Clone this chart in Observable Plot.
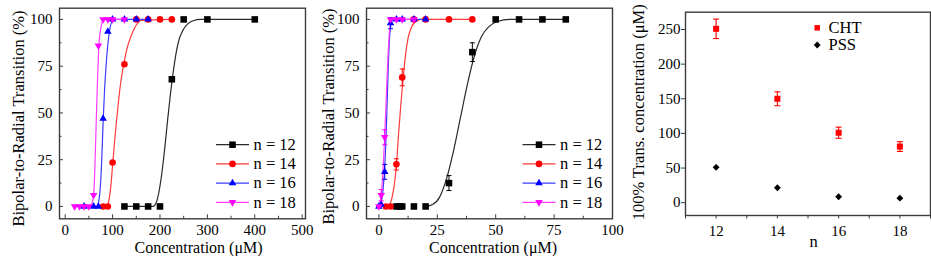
<!DOCTYPE html>
<html>
<head>
<meta charset="utf-8">
<script src="https://cdn.jsdelivr.net/npm/d3@7"></script>
<script src="https://cdn.jsdelivr.net/npm/@observablehq/plot@0.6"></script>
<style>
  body { margin: 0; background: #fff; }
  #chart { position: relative; width: 931px; height: 256px; overflow: hidden; background: #fff; }
  #chart svg { position: absolute; left: 0; top: 0; }
  #chart svg, #chart svg text { font-family: "Liberation Serif", "Times New Roman", serif !important; }
</style>
</head>
<body>
<div id="chart"></div>
<script>
// ---------- series labels / styles ----------
const legendLabels = ["n = 12", "n = 14", "n = 16", "n = 18"];
const markerColors = ["#000000", "#ff0000", "#0000ff", "#ff00ff"];
const curveColors = ["#2a2a2a", "#ff3b3b", "#3b3bff", "#ff3bff"];
const markerSymbols = ["square", "circle", "triangle", "triangle"];
const markerRotate = [0, 0, 0, 180];
const markerR = [3.7, 3.3, 2.8, 2.8];

// ---------- Panel 1: CHT, Bipolar-to-Radial transition vs concentration ----------
const cht12X = [125, 150, 175, 200, 225, 250, 300, 400];
const cht12Y = [0, 0, 0, 0, 68, 100, 100, 100];
const cht14X = [80, 90, 100, 125, 150, 175, 200, 225];
const cht14Y = [0, 0, 23.5, 76, 100, 100, 100, 100];
const cht16X = [40, 60, 70, 80, 90, 100, 125, 150, 175];
const cht16Y = [0, 0, 0, 47, 93.5, 100, 100, 100, 100];
const cht18X = [20, 30, 40, 50, 60, 70, 80, 90, 100, 125];
const cht18Y = [0, 0, 0, 0, 6, 86, 100, 100, 100, 100];

// fitted curves
const chtFit12X = [125, 185, 192, 198, 204, 210, 216, 222, 228, 234, 240, 248, 258, 270, 285, 400];
const chtFit12Y = [0, 0, 2, 8, 18, 31, 46, 60, 72, 82, 89, 94, 97.5, 99.3, 100, 100];
const chtFit14X = [80, 88, 92, 96, 100, 104, 108, 112, 116, 120, 125, 130, 136, 142, 150, 160, 225];
const chtFit14Y = [0, 0, 3, 10, 22, 34, 45, 55, 64, 71, 78, 84, 89, 93, 97, 99.5, 100];
const chtFit16X = [40, 68, 71, 74, 77, 80, 83, 86, 89, 92, 95, 99, 104, 175];
const chtFit16Y = [0, 0, 3, 10, 24, 45, 62, 74, 84, 91, 96, 99, 100, 100];
const chtFit18X = [20, 54, 57, 60, 62, 64, 66, 68, 70, 72, 75, 78, 82, 125];
const chtFit18Y = [0, 0, 2, 6, 16, 32, 50, 66, 80, 89, 95, 98.5, 100, 100];

// ---------- Panel 2: PSS ----------
const pss12X = [7.5, 9, 10, 15, 20, 30, 40, 50, 60, 70, 80];
const pss12Y = [0, 0, 0, 0, 0, 12.5, 82.5, 100, 100, 100, 100];
const pss14X = [3, 5, 7.5, 10, 15, 20, 30, 40];
const pss14Y = [0, 0, 22.5, 69, 100, 100, 100, 100];
const pss16X = [0, 1, 2.5, 5, 7.5, 10, 15, 20];
const pss16Y = [0, 1, 18.5, 98, 100, 100, 100, 100];
const pss18X = [0, 1, 2.5, 5, 7.5, 10, 15];
const pss18Y = [0, 6, 37, 100, 100, 100, 100];

const pss12ErrX = [30, 40];   const pss12ErrY = [12.5, 82.5]; const pss12Err = [4, 5];
const pss14ErrX = [7.5, 10];  const pss14ErrY = [22.5, 69];   const pss14Err = [3, 4.5];
const pss16ErrX = [2.5, 5];   const pss16ErrY = [18.5, 98];   const pss16Err = [4, 3];
const pss18ErrX = [1, 2.5];   const pss18ErrY = [6, 37];      const pss18Err = [3, 4];

const pssFit12X = [20, 23, 26, 29, 32, 35, 38, 41, 44, 47, 51, 56, 80];
const pssFit12Y = [0, 1, 5, 15, 30, 48, 66, 81, 91, 96, 99, 100, 100];
const pssFit14X = [3, 4.5, 6, 7.5, 8.5, 9.5, 10.5, 11.5, 12.5, 14, 16, 18, 40];
const pssFit14Y = [0, 1, 7, 22, 40, 56, 70, 82, 90, 96, 99, 100, 100];
const pssFit16X = [0, 1, 1.5, 2, 2.5, 3, 3.5, 4, 4.5, 5, 5.5, 6.5, 20];
const pssFit16Y = [0, 2, 6, 12, 21, 35, 54, 74, 89, 96, 99, 100, 100];
const pssFit18X = [0, 0.5, 1, 1.5, 2, 2.5, 3, 3.5, 4, 4.5, 5, 6, 15];
const pssFit18Y = [0, 2, 6, 14, 25, 38, 53, 69, 83, 93, 98, 100, 100];

// ---------- Panel 3: 100% transition concentration vs n ----------
const nValues = [12, 14, 16, 18];
const chtTrans = [251, 150, 101, 81];
const chtTransErr = [14, 10, 8, 7];
const pssTrans = [51, 21.5, 8.5, 6.5];
const pssTransErr = [3, 1.5, 1, 1];

const yTitleSigmoid = "Bipolar-to-Radial Transition (%)";
const xTitleSigmoid = "Concentration (μM)";
const yTitleTrans = "100% Trans. concentration (μM)";
const xTitleTrans = "n";
const panel3Legend = ["CHT", "PSS"];

// ---------- helpers ----------
const FONT = "Liberation Serif";
const FS = 16.5;   // titles / legend
const TFS = 15;    // tick labels
const frameColor = "#3c3c3c";
const cap = w => ({draw(ctx) { ctx.moveTo(-w / 2, 0); ctx.lineTo(w / 2, 0); }});
const seg = w => ({draw(ctx) { ctx.moveTo(-w / 2, 0); ctx.lineTo(w / 2, 0); }});
const pts = (xs, ys) => xs.map((x, i) => ({x, y: ys[i]}));
const errs = (xs, ys, es) => xs.map((x, i) => ({x, y: ys[i], e: es[i]}));
const range = (a, b, s) => d3.range(a, b + s / 2, s);

function baseStyle() {
  return {background: "transparent", overflow: "visible", fontFamily: FONT, fontSize: FS + "px", color: "#000"};
}

function sigmoidPanel(cfg) {
  const marks = [Plot.frame({stroke: frameColor, strokeWidth: 1.4})];
  // inward ticks
  marks.push(Plot.axisX(cfg.xMajor, {tickSize: -4, fill: "none", label: null, stroke: frameColor}));
  marks.push(Plot.axisX(cfg.xMinor, {tickSize: -2.5, fill: "none", label: null, stroke: frameColor}));
  marks.push(Plot.axisY(cfg.yMajor, {tickSize: -4, fill: "none", label: null, stroke: frameColor}));
  marks.push(Plot.axisY(cfg.yMinor, {tickSize: -2.5, fill: "none", label: null, stroke: frameColor}));
  // tick labels
  marks.push(Plot.axisX(cfg.xMajor, {tickSize: 0, tickPadding: 6, label: null, fill: "#000", fontSize: TFS, fontFamily: FONT}));
  marks.push(Plot.axisY(cfg.yMajor, {tickSize: 0, tickPadding: 7, label: null, fill: "#000", fontSize: TFS, fontFamily: FONT}));
  // titles
  marks.push(Plot.text([yTitleSigmoid], {text: d => d, frameAnchor: "left", textAnchor: "middle", lineAnchor: "middle", rotate: -90, dx: cfg.yTitleDx, dy: cfg.yTitleDy, fontSize: FS, fontFamily: FONT, fill: "#000"}));
  marks.push(Plot.text([xTitleSigmoid], {text: d => d, frameAnchor: "bottom", textAnchor: "middle", lineAnchor: "middle", dx: cfg.xTitleDx, dy: 28.8, fontSize: 16, fontFamily: FONT, fill: "#000"}));
  // fitted curves
  cfg.series.forEach((s, i) => {
    marks.push(Plot.line(pts(s.fitX, s.fitY), {x: "x", y: "y", stroke: curveColors[i], strokeWidth: 1.2, curve: "monotone-x"}));
  });
  // markers + error bars
  cfg.series.forEach((s, i) => {
    marks.push(Plot.dot(pts(s.x, s.y), {x: "x", y: "y", symbol: markerSymbols[i], rotate: markerRotate[i], r: markerR[i], fill: markerColors[i]}));
    if (s.errX) {
      const e = errs(s.errX, s.errY, s.err);
      marks.push(Plot.ruleX(e, {x: "x", y1: d => d.y - d.e, y2: d => d.y + d.e, stroke: markerColors[i], strokeWidth: 1}));
      marks.push(Plot.dot(e, {x: "x", y: d => d.y - d.e, symbol: cap(5), stroke: markerColors[i], fill: "none", strokeWidth: 1}));
      marks.push(Plot.dot(e, {x: "x", y: d => d.y + d.e, symbol: cap(5), stroke: markerColors[i], fill: "none", strokeWidth: 1}));
    }
  });
  // legend
  legendLabels.forEach((lab, i) => {
    const dy = 136.5 + i * 19.2;
    marks.push(Plot.dot([lab], {frameAnchor: "top-left", dx: cfg.legDx, dy, symbol: seg(33), stroke: curveColors[i], fill: "none", strokeWidth: 1.3}));
    marks.push(Plot.dot([lab], {frameAnchor: "top-left", dx: cfg.legDx, dy, symbol: markerSymbols[i], rotate: markerRotate[i], r: markerR[i], fill: markerColors[i]}));
    marks.push(Plot.text([lab], {text: d => d, frameAnchor: "top-left", dx: cfg.legDx + 21, dy, textAnchor: "start", lineAnchor: "middle", fontSize: FS, fontFamily: FONT, fill: "#000"}));
  });
  return Plot.plot({
    width: 931, height: 256,
    marginLeft: cfg.left, marginRight: 931 - cfg.right, marginTop: 7.7, marginBottom: 256 - 218.3,
    x: {domain: cfg.xDomain},
    y: {domain: [-6.6, 106]},
    style: baseStyle(),
    marks
  });
}

const panel1 = sigmoidPanel({
  left: 59, right: 305, xDomain: [-12, 507],
  xMajor: range(0, 500, 100), xMinor: range(50, 450, 100),
  yMajor: range(0, 100, 25), yMinor: range(12.5, 87.5, 25),
  yTitleDx: -41, yTitleDy: 5, xTitleDx: 16,
  legDx: 173,
  series: [
    {x: cht12X, y: cht12Y, fitX: chtFit12X, fitY: chtFit12Y},
    {x: cht14X, y: cht14Y, fitX: chtFit14X, fitY: chtFit14Y},
    {x: cht16X, y: cht16Y, fitX: chtFit16X, fitY: chtFit16Y},
    {x: cht18X, y: cht18Y, fitX: chtFit18X, fitY: chtFit18Y}
  ]
});

const panel2 = sigmoidPanel({
  left: 366, right: 612, xDomain: [-5.3, 100],
  xMajor: range(0, 100, 25), xMinor: range(12.5, 87.5, 25),
  yMajor: range(0, 100, 25), yMinor: range(12.5, 87.5, 25),
  yTitleDx: -37.7, yTitleDy: 3, xTitleDx: 3.5,
  legDx: 172.5,
  series: [
    {x: pss12X, y: pss12Y, fitX: pssFit12X, fitY: pssFit12Y, errX: pss12ErrX, errY: pss12ErrY, err: pss12Err},
    {x: pss14X, y: pss14Y, fitX: pssFit14X, fitY: pssFit14Y, errX: pss14ErrX, errY: pss14ErrY, err: pss14Err},
    {x: pss16X, y: pss16Y, fitX: pssFit16X, fitY: pssFit16Y, errX: pss16ErrX, errY: pss16ErrY, err: pss16Err},
    {x: pss18X, y: pss18Y, fitX: pssFit18X, fitY: pssFit18Y, errX: pss18ErrX, errY: pss18ErrY, err: pss18Err}
  ]
});

// Panel 3
const chtRows = errs(nValues, chtTrans, chtTransErr);
const pssRows = errs(nValues, pssTrans, pssTransErr);
const panel3 = Plot.plot({
  width: 931, height: 256,
  marginLeft: 685, marginRight: 1, marginTop: 11.7, marginBottom: 41,
  x: {domain: [11, 19]},
  y: {domain: [-18.5, 275]},
  style: baseStyle(),
  marks: [
    Plot.frame({stroke: frameColor, strokeWidth: 1.4}),
    Plot.axisX(range(11, 19, 1), {tickSize: 3.5, fill: "none", label: null, stroke: frameColor}),
    Plot.axisY(range(0, 250, 50), {tickSize: 4, fill: "none", label: null, stroke: frameColor}),
    Plot.axisX(nValues, {tickSize: 0, tickPadding: 9.5, label: null, fill: "#000", fontSize: TFS, fontFamily: FONT}),
    Plot.axisY(range(0, 250, 50), {tickSize: 0, tickPadding: 5, label: null, fill: "#000", fontSize: TFS, fontFamily: FONT}),
    Plot.text([yTitleTrans], {text: d => d, frameAnchor: "left", textAnchor: "middle", lineAnchor: "middle", rotate: -90, dx: -46.7, dy: -1.6, fontSize: FS, fontFamily: FONT, fill: "#000"}),
    Plot.text([xTitleTrans], {text: d => d, frameAnchor: "bottom", textAnchor: "middle", lineAnchor: "middle", dx: 5.5, dy: 26, fontSize: FS, fontFamily: FONT, fill: "#000"}),
    // CHT
    Plot.ruleX(chtRows, {x: "x", y1: d => d.y - d.e, y2: d => d.y + d.e, stroke: "#ff0000", strokeWidth: 1.1}),
    Plot.dot(chtRows, {x: "x", y: d => d.y - d.e, symbol: cap(6), stroke: "#ff0000", fill: "none", strokeWidth: 1.1}),
    Plot.dot(chtRows, {x: "x", y: d => d.y + d.e, symbol: cap(6), stroke: "#ff0000", fill: "none", strokeWidth: 1.1}),
    Plot.dot(chtRows, {x: "x", y: "y", symbol: "square", r: 3.4, fill: "#ff0000"}),
    // PSS
    Plot.ruleX(pssRows, {x: "x", y1: d => d.y - d.e, y2: d => d.y + d.e, stroke: "#000", strokeWidth: 1.1}),
    Plot.dot(pssRows, {x: "x", y: "y", symbol: "diamond2", r: 3.1, fill: "#000"}),
    // legend
    Plot.dot([panel3Legend[0]], {frameAnchor: "top-left", dx: 131.7, dy: 15.6, symbol: "square", r: 3.1, fill: "#ff0000"}),
    Plot.text([panel3Legend[0]], {text: d => d, frameAnchor: "top-left", dx: 143, dy: 15.6, textAnchor: "start", lineAnchor: "middle", fontSize: FS, fontFamily: FONT, fill: "#000"}),
    Plot.dot([panel3Legend[1]], {frameAnchor: "top-left", dx: 131.7, dy: 32.8, symbol: "diamond2", r: 3.1, fill: "#000"}),
    Plot.text([panel3Legend[1]], {text: d => d, frameAnchor: "top-left", dx: 143, dy: 32.8, textAnchor: "start", lineAnchor: "middle", fontSize: FS, fontFamily: FONT, fill: "#000"})
  ]
});

const chart = document.getElementById("chart");
chart.append(panel1, panel2, panel3);
</script>
</body>
</html>
